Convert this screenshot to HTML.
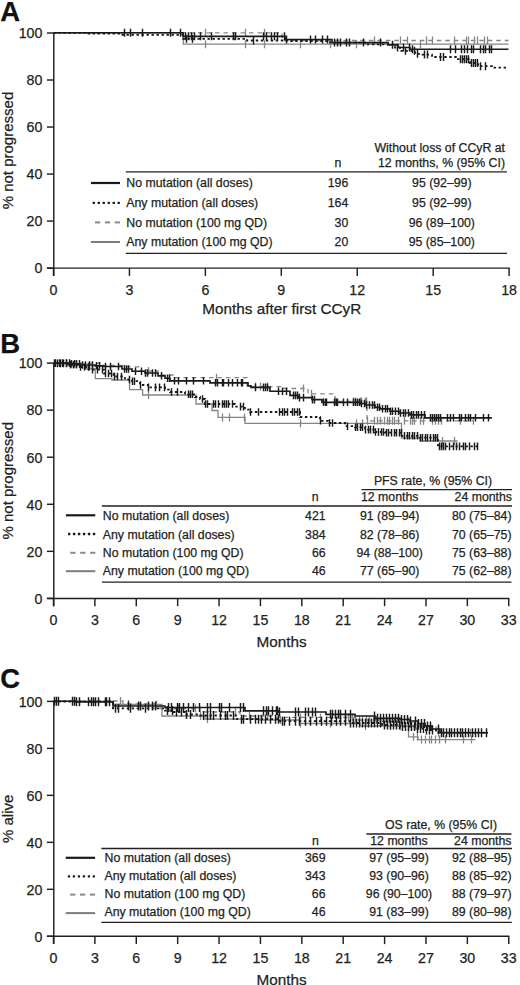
<!DOCTYPE html>
<html><head><meta charset="utf-8"><style>
html,body{margin:0;padding:0;background:#fff;}
svg{display:block;font-family:"Liberation Sans", sans-serif;}
text{stroke:#231f20;stroke-width:0.25px;}
</style></head><body>
<svg width="520" height="985" viewBox="0 0 520 985">
<rect width="520" height="985" fill="#fff"/>
<text x="0.2" y="20.6" font-size="27.5" text-anchor="start" font-weight="bold" fill="#111">A</text>
<line x1="53.8" y1="32.4" x2="53.8" y2="275.9" stroke="#231f20" stroke-width="1.45"/>
<line x1="46.9" y1="268.1" x2="509.7" y2="268.1" stroke="#231f20" stroke-width="1.45"/>
<line x1="46.9" y1="268.1" x2="53.8" y2="268.1" stroke="#231f20" stroke-width="1.45"/>
<text x="42.4" y="273.4" font-size="14.2" text-anchor="end" font-weight="normal" fill="#231f20">0</text>
<line x1="46.9" y1="221.08" x2="53.8" y2="221.08" stroke="#231f20" stroke-width="1.45"/>
<text x="42.4" y="226.38" font-size="14.2" text-anchor="end" font-weight="normal" fill="#231f20">20</text>
<line x1="46.9" y1="174.06" x2="53.8" y2="174.06" stroke="#231f20" stroke-width="1.45"/>
<text x="42.4" y="179.36" font-size="14.2" text-anchor="end" font-weight="normal" fill="#231f20">40</text>
<line x1="46.9" y1="127.04" x2="53.8" y2="127.04" stroke="#231f20" stroke-width="1.45"/>
<text x="42.4" y="132.34" font-size="14.2" text-anchor="end" font-weight="normal" fill="#231f20">60</text>
<line x1="46.9" y1="80.02" x2="53.8" y2="80.02" stroke="#231f20" stroke-width="1.45"/>
<text x="42.4" y="85.32" font-size="14.2" text-anchor="end" font-weight="normal" fill="#231f20">80</text>
<line x1="46.9" y1="33" x2="53.8" y2="33" stroke="#231f20" stroke-width="1.45"/>
<text x="42.4" y="38.3" font-size="14.2" text-anchor="end" font-weight="normal" fill="#231f20">100</text>
<line x1="53.5" y1="268.1" x2="53.5" y2="275.9" stroke="#231f20" stroke-width="1.45"/>
<text x="53.5" y="294.8" font-size="14.2" text-anchor="middle" font-weight="normal" fill="#231f20">0</text>
<line x1="129.43" y1="268.1" x2="129.43" y2="275.9" stroke="#231f20" stroke-width="1.45"/>
<text x="129.43" y="294.8" font-size="14.2" text-anchor="middle" font-weight="normal" fill="#231f20">3</text>
<line x1="205.37" y1="268.1" x2="205.37" y2="275.9" stroke="#231f20" stroke-width="1.45"/>
<text x="205.37" y="294.8" font-size="14.2" text-anchor="middle" font-weight="normal" fill="#231f20">6</text>
<line x1="281.3" y1="268.1" x2="281.3" y2="275.9" stroke="#231f20" stroke-width="1.45"/>
<text x="281.3" y="294.8" font-size="14.2" text-anchor="middle" font-weight="normal" fill="#231f20">9</text>
<line x1="357.23" y1="268.1" x2="357.23" y2="275.9" stroke="#231f20" stroke-width="1.45"/>
<text x="357.23" y="294.8" font-size="14.2" text-anchor="middle" font-weight="normal" fill="#231f20">12</text>
<line x1="433.17" y1="268.1" x2="433.17" y2="275.9" stroke="#231f20" stroke-width="1.45"/>
<text x="433.17" y="294.8" font-size="14.2" text-anchor="middle" font-weight="normal" fill="#231f20">15</text>
<line x1="509.1" y1="268.1" x2="509.1" y2="275.9" stroke="#231f20" stroke-width="1.45"/>
<text x="509.1" y="294.8" font-size="14.2" text-anchor="middle" font-weight="normal" fill="#231f20">18</text>
<text x="281.8" y="314.4" font-size="15.3" text-anchor="middle" font-weight="normal" fill="#231f20">Months after first CCyR</text>
<text x="0" y="0" font-size="15" text-anchor="middle" fill="#231f20" transform="translate(12.7,150.55) rotate(-90)">% not progressed</text>
<path d="M53.5,32.8H183.3V44.2H508.5" fill="none" stroke="#858585" stroke-width="1.3"/>
<path d="M205.5,40.2V48.2M245.5,40.2V48.2M264.5,40.2V48.2M300.5,40.2V48.2M330.5,40.2V48.2M356.5,40.2V48.2M420.5,40.2V48.2" fill="none" stroke="#858585" stroke-width="1.3"/>
<path d="M53.5,32.8H282V40.5H508.5" fill="none" stroke="#858585" stroke-width="1.3" stroke-dasharray="4.5 4"/>
<path d="M205.5,28.8V36.8M245.5,28.8V36.8M264.5,28.8V36.8M374.5,36.5V44.5M400.5,36.5V44.5M407.5,36.5V44.5M426.5,36.5V44.5M432.5,36.5V44.5M454.5,36.5V44.5M466.5,36.5V44.5M468.5,36.5V44.5M474.5,36.5V44.5M477.5,36.5V44.5M484.5,36.5V44.5M487.5,36.5V44.5" fill="none" stroke="#858585" stroke-width="1.3"/>
<path d="M53.5,32.7H183V36.3H285V39.5H332V42.6H388V44.8H398V47.5H410V49.2H508.5" fill="none" stroke="#1a1a1a" stroke-width="1.65"/>
<path d="M124.5,28.7V36.7M130.5,28.7V36.7M142.5,28.7V36.7M170.5,28.7V36.7M180.5,28.7V36.7M185.5,32.3V40.3M188.5,32.3V40.3M191.5,32.3V40.3M194.5,32.3V40.3M200.5,32.3V40.3M211.5,32.3V40.3M233.5,32.3V40.3M235.5,32.3V40.3M263.5,32.3V40.3M266.5,32.3V40.3M271.5,32.3V40.3M274.5,32.3V40.3M277.5,32.3V40.3M284.5,32.3V40.3M286.5,35.5V43.5M310.5,35.5V43.5M315.5,35.5V43.5M322.5,35.5V43.5M327.5,35.5V43.5M334.5,38.6V46.6M337.5,38.6V46.6M340.5,38.6V46.6M346.5,38.6V46.6M349.5,38.6V46.6M363.5,38.6V46.6M380.5,38.6V46.6M392.5,40.8V48.8M403.5,43.5V51.5M409.5,43.5V51.5M412.5,45.2V53.2M450.5,45.2V53.2M455.5,45.2V53.2M461.5,45.2V53.2M464.5,45.2V53.2M467.5,45.2V53.2M471.5,45.2V53.2M473.5,45.2V53.2M480.5,45.2V53.2M483.5,45.2V53.2M485.5,45.2V53.2M489.5,45.2V53.2M491.5,45.2V53.2" fill="none" stroke="#1a1a1a" stroke-width="1.45"/>
<path d="M53.5,32.8H86V33.7H120V34.8H183V38.8H247V40.5H290V41H330V42.6H365V44.4H395V47.5H400V50.8H415V53.8H420V54.6H432V57H458V59.2H470V63H478V66.2H492V67.7H508.5" fill="none" stroke="#1a1a1a" stroke-width="1.8" stroke-dasharray="2.4 2.6"/>
<path d="M186.5,34.8V42.8M192.5,34.8V42.8M253.5,36.5V44.5M397.5,43.5V51.5M405.5,46.8V54.8M414.5,46.8V54.8M417.5,49.8V57.8M424.5,50.6V58.6M427.5,50.6V58.6M440.5,53V61M443.5,53V61M460.5,55.2V63.2M462.5,55.2V63.2M464.5,55.2V63.2M466.5,55.2V63.2M468.5,55.2V63.2M471.5,59V67M473.5,59V67M475.5,59V67M477.5,59V67M480.5,62.2V70.2M485.5,62.2V70.2" fill="none" stroke="#1a1a1a" stroke-width="1.45"/>
<line x1="125.8" y1="171.8" x2="507" y2="171.8" stroke="#231f20" stroke-width="1.3"/>
<line x1="125.8" y1="253.3" x2="507" y2="253.3" stroke="#231f20" stroke-width="1.3"/>
<text x="505" y="152.4" font-size="12.3" text-anchor="end" font-weight="normal" fill="#231f20">Without loss of CCyR at</text>
<text x="505" y="166.5" font-size="12.3" text-anchor="end" font-weight="normal" fill="#231f20">12 months, % (95% CI)</text>
<text x="337.8" y="166.8" font-size="12.3" text-anchor="middle" font-weight="normal" fill="#231f20">n</text>
<text x="126.3" y="187.1" font-size="12.3" text-anchor="start" font-weight="normal" fill="#231f20">No mutation (all doses)</text>
<text x="348.3" y="187.1" font-size="12.3" text-anchor="end" font-weight="normal" fill="#231f20">196</text>
<text x="441.8" y="187.1" font-size="12.3" text-anchor="middle" font-weight="normal" fill="#231f20">95 (92–99)</text>
<text x="126.3" y="206.8" font-size="12.3" text-anchor="start" font-weight="normal" fill="#231f20">Any mutation (all doses)</text>
<text x="348.3" y="206.8" font-size="12.3" text-anchor="end" font-weight="normal" fill="#231f20">164</text>
<text x="441.8" y="206.8" font-size="12.3" text-anchor="middle" font-weight="normal" fill="#231f20">95 (92–99)</text>
<text x="126.3" y="226.5" font-size="12.3" text-anchor="start" font-weight="normal" fill="#231f20">No mutation (100 mg QD)</text>
<text x="348.3" y="226.5" font-size="12.3" text-anchor="end" font-weight="normal" fill="#231f20">30</text>
<text x="441.8" y="226.5" font-size="12.3" text-anchor="middle" font-weight="normal" fill="#231f20">96 (89–100)</text>
<text x="126.3" y="246.4" font-size="12.3" text-anchor="start" font-weight="normal" fill="#231f20">Any mutation (100 mg QD)</text>
<text x="348.3" y="246.4" font-size="12.3" text-anchor="end" font-weight="normal" fill="#231f20">20</text>
<text x="441.8" y="246.4" font-size="12.3" text-anchor="middle" font-weight="normal" fill="#231f20">95 (85–100)</text>
<line x1="90.9" y1="183" x2="120" y2="183" stroke="#1a1a1a" stroke-width="2.2"/>
<rect x="92.7" y="201.75" width="2.3" height="2.3" rx="0.5" fill="#1a1a1a"/>
<rect x="97.68" y="201.75" width="2.3" height="2.3" rx="0.5" fill="#1a1a1a"/>
<rect x="102.66" y="201.75" width="2.3" height="2.3" rx="0.5" fill="#1a1a1a"/>
<rect x="107.64" y="201.75" width="2.3" height="2.3" rx="0.5" fill="#1a1a1a"/>
<rect x="112.62" y="201.75" width="2.3" height="2.3" rx="0.5" fill="#1a1a1a"/>
<rect x="117.6" y="201.75" width="2.3" height="2.3" rx="0.5" fill="#1a1a1a"/>
<line x1="114.8" y1="222.4" x2="120" y2="222.4" stroke="#8a8a8a" stroke-width="2"/>
<line x1="104.9" y1="222.4" x2="110.1" y2="222.4" stroke="#8a8a8a" stroke-width="2"/>
<line x1="95" y1="222.4" x2="100.2" y2="222.4" stroke="#8a8a8a" stroke-width="2"/>
<line x1="90.9" y1="242" x2="120" y2="242" stroke="#7d7d7d" stroke-width="2"/>
<text x="0.2" y="353.4" font-size="27.5" text-anchor="start" font-weight="bold" fill="#111">B</text>
<line x1="53.8" y1="362.5" x2="53.8" y2="606.2" stroke="#231f20" stroke-width="1.45"/>
<line x1="46.9" y1="598.4" x2="509.35" y2="598.4" stroke="#231f20" stroke-width="1.45"/>
<line x1="46.9" y1="598.4" x2="53.8" y2="598.4" stroke="#231f20" stroke-width="1.45"/>
<text x="42.4" y="603.7" font-size="14.2" text-anchor="end" font-weight="normal" fill="#231f20">0</text>
<line x1="46.9" y1="551.34" x2="53.8" y2="551.34" stroke="#231f20" stroke-width="1.45"/>
<text x="42.4" y="556.64" font-size="14.2" text-anchor="end" font-weight="normal" fill="#231f20">20</text>
<line x1="46.9" y1="504.28" x2="53.8" y2="504.28" stroke="#231f20" stroke-width="1.45"/>
<text x="42.4" y="509.58" font-size="14.2" text-anchor="end" font-weight="normal" fill="#231f20">40</text>
<line x1="46.9" y1="457.22" x2="53.8" y2="457.22" stroke="#231f20" stroke-width="1.45"/>
<text x="42.4" y="462.52" font-size="14.2" text-anchor="end" font-weight="normal" fill="#231f20">60</text>
<line x1="46.9" y1="410.16" x2="53.8" y2="410.16" stroke="#231f20" stroke-width="1.45"/>
<text x="42.4" y="415.46" font-size="14.2" text-anchor="end" font-weight="normal" fill="#231f20">80</text>
<line x1="46.9" y1="363.1" x2="53.8" y2="363.1" stroke="#231f20" stroke-width="1.45"/>
<text x="42.4" y="368.4" font-size="14.2" text-anchor="end" font-weight="normal" fill="#231f20">100</text>
<line x1="53.5" y1="598.4" x2="53.5" y2="606.2" stroke="#231f20" stroke-width="1.45"/>
<text x="53.5" y="625.1" font-size="14.2" text-anchor="middle" font-weight="normal" fill="#231f20">0</text>
<line x1="94.89" y1="598.4" x2="94.89" y2="606.2" stroke="#231f20" stroke-width="1.45"/>
<text x="94.89" y="625.1" font-size="14.2" text-anchor="middle" font-weight="normal" fill="#231f20">3</text>
<line x1="136.27" y1="598.4" x2="136.27" y2="606.2" stroke="#231f20" stroke-width="1.45"/>
<text x="136.27" y="625.1" font-size="14.2" text-anchor="middle" font-weight="normal" fill="#231f20">6</text>
<line x1="177.66" y1="598.4" x2="177.66" y2="606.2" stroke="#231f20" stroke-width="1.45"/>
<text x="177.66" y="625.1" font-size="14.2" text-anchor="middle" font-weight="normal" fill="#231f20">9</text>
<line x1="219.05" y1="598.4" x2="219.05" y2="606.2" stroke="#231f20" stroke-width="1.45"/>
<text x="219.05" y="625.1" font-size="14.2" text-anchor="middle" font-weight="normal" fill="#231f20">12</text>
<line x1="260.43" y1="598.4" x2="260.43" y2="606.2" stroke="#231f20" stroke-width="1.45"/>
<text x="260.43" y="625.1" font-size="14.2" text-anchor="middle" font-weight="normal" fill="#231f20">15</text>
<line x1="301.82" y1="598.4" x2="301.82" y2="606.2" stroke="#231f20" stroke-width="1.45"/>
<text x="301.82" y="625.1" font-size="14.2" text-anchor="middle" font-weight="normal" fill="#231f20">18</text>
<line x1="343.2" y1="598.4" x2="343.2" y2="606.2" stroke="#231f20" stroke-width="1.45"/>
<text x="343.2" y="625.1" font-size="14.2" text-anchor="middle" font-weight="normal" fill="#231f20">21</text>
<line x1="384.59" y1="598.4" x2="384.59" y2="606.2" stroke="#231f20" stroke-width="1.45"/>
<text x="384.59" y="625.1" font-size="14.2" text-anchor="middle" font-weight="normal" fill="#231f20">24</text>
<line x1="425.98" y1="598.4" x2="425.98" y2="606.2" stroke="#231f20" stroke-width="1.45"/>
<text x="425.98" y="625.1" font-size="14.2" text-anchor="middle" font-weight="normal" fill="#231f20">27</text>
<line x1="467.36" y1="598.4" x2="467.36" y2="606.2" stroke="#231f20" stroke-width="1.45"/>
<text x="467.36" y="625.1" font-size="14.2" text-anchor="middle" font-weight="normal" fill="#231f20">30</text>
<line x1="508.75" y1="598.4" x2="508.75" y2="606.2" stroke="#231f20" stroke-width="1.45"/>
<text x="508.75" y="625.1" font-size="14.2" text-anchor="middle" font-weight="normal" fill="#231f20">33</text>
<text x="281.62" y="646.6" font-size="15.3" text-anchor="middle" font-weight="normal" fill="#231f20">Months</text>
<text x="0" y="0" font-size="15" text-anchor="middle" fill="#231f20" transform="translate(12.7,480.75) rotate(-90)">% not progressed</text>
<path d="M53.5,363.1H70V365H85V369H95.3V378.6H112V380H129.5V389.7H142.6V395H196V404H212V410.5H218V417.4H245V423.3H401.5V438H420V441H457.6" fill="none" stroke="#858585" stroke-width="1.3"/>
<path d="M148.5,391V399M222.5,413.4V421.4M229.5,413.4V421.4M244.5,413.4V421.4M300.5,419.3V427.3M356.5,419.3V427.3M362.5,419.3V427.3M442.5,437V445M454.5,437V445" fill="none" stroke="#858585" stroke-width="1.3"/>
<path d="M53.5,363.1H100V365.5H125V366.8H140V371H158V375H175V377.7H247V386.6H283V388.5H308V393.8H335V401.4H367V420.8H473" fill="none" stroke="#858585" stroke-width="1.3" stroke-dasharray="4.5 4"/>
<path d="M148.5,367V375M216.5,373.7V381.7M255.5,382.6V390.6M260.5,382.6V390.6M267.5,382.6V390.6M303.5,384.5V392.5M311.5,389.8V397.8M335.5,397.4V405.4M353.5,397.4V405.4M355.5,397.4V405.4M360.5,397.4V405.4M361.5,397.4V405.4M365.5,397.4V405.4M366.5,397.4V405.4M367.5,416.8V424.8M374.5,416.8V424.8M377.5,416.8V424.8M380.5,416.8V424.8M384.5,416.8V424.8M387.5,416.8V424.8M389.5,416.8V424.8M392.5,416.8V424.8M394.5,416.8V424.8M398.5,416.8V424.8M404.5,416.8V424.8M410.5,416.8V424.8M412.5,416.8V424.8M414.5,416.8V424.8M420.5,416.8V424.8M423.5,416.8V424.8M432.5,416.8V424.8M435.5,416.8V424.8M438.5,416.8V424.8M441.5,416.8V424.8M460.5,416.8V424.8M473.5,416.8V424.8" fill="none" stroke="#858585" stroke-width="1.3"/>
<path d="M53.5,363.1H70V363.8H80V365H95V365.8H103V366.5H122V369H132V371.2H145V373H158V375.8H165V378.2H170V380.8H210V382.8H248V385.8H251V387.4H270V391.2H290V395.4H298V397.6H312V399.6H322V402.3H360V403.5H365V405H375V407.3H380V408.8H390V411.2H400V413H410V414.9H425V417.8H491.9" fill="none" stroke="#1a1a1a" stroke-width="1.65"/>
<path d="M54.5,359.3V366.9M55.5,359.3V366.9M59.5,359.3V366.9M62.5,359.3V366.9M66.5,359.3V366.9M69.5,359.3V366.9M71.5,360V367.6M74.5,360V367.6M76.5,360V367.6M79.5,360V367.6M82.5,361.2V368.8M85.5,361.2V368.8M89.5,361.2V368.8M92.5,361.2V368.8M96.5,362V369.6M99.5,362V369.6M105.5,362.7V370.3M110.5,362.7V370.3M118.5,362.7V370.3M124.5,365.2V372.8M126.5,365.2V372.8M128.5,365.2V372.8M135.5,367.4V375M141.5,367.4V375M145.5,369.2V376.8M147.5,369.2V376.8M152.5,369.2V376.8M155.5,369.2V376.8M161.5,372V379.6M167.5,374.4V382M169.5,374.4V382M174.5,377V384.6M178.5,377V384.6M186.5,377V384.6M193.5,377V384.6M203.5,377V384.6M215.5,379V386.6M217.5,379V386.6M222.5,379V386.6M223.5,379V386.6M228.5,379V386.6M232.5,379V386.6M237.5,379V386.6M241.5,379V386.6M242.5,379V386.6M255.5,383.6V391.2M263.5,383.6V391.2M265.5,383.6V391.2M267.5,383.6V391.2M278.5,387.4V395M282.5,387.4V395M286.5,387.4V395M293.5,391.6V399.2M295.5,391.6V399.2M297.5,391.6V399.2M299.5,393.8V401.4M303.5,393.8V401.4M303.5,393.8V401.4M312.5,395.8V403.4M314.5,395.8V403.4M323.5,398.5V406.1M325.5,398.5V406.1M326.5,398.5V406.1M334.5,398.5V406.1M336.5,398.5V406.1M337.5,398.5V406.1M343.5,398.5V406.1M347.5,398.5V406.1M353.5,398.5V406.1M355.5,398.5V406.1M357.5,398.5V406.1M359.5,398.5V406.1M361.5,399.7V407.3M364.5,399.7V407.3M366.5,401.2V408.8M369.5,401.2V408.8M372.5,401.2V408.8M374.5,401.2V408.8M377.5,403.5V411.1M379.5,403.5V411.1M382.5,405V412.6M385.5,405V412.6M387.5,405V412.6M390.5,407.4V415M392.5,407.4V415M395.5,407.4V415M398.5,407.4V415M400.5,409.2V416.8M403.5,409.2V416.8M405.5,409.2V416.8M408.5,409.2V416.8M411.5,411.1V418.7M413.5,411.1V418.7M416.5,411.1V418.7M418.5,411.1V418.7M421.5,411.1V418.7M424.5,411.1V418.7M430.5,414V421.6M432.5,414V421.6M434.5,414V421.6M436.5,414V421.6M438.5,414V421.6M440.5,414V421.6M447.5,414V421.6M450.5,414V421.6M453.5,414V421.6M459.5,414V421.6M461.5,414V421.6M465.5,414V421.6M468.5,414V421.6M470.5,414V421.6M475.5,414V421.6M483.5,414V421.6M488.5,414V421.6" fill="none" stroke="#1a1a1a" stroke-width="1.45"/>
<path d="M53.5,363.4H68V364.7H80V367H89V369.6H104V373.5H113.5V376.5H125V379.5H132V381.2H140V385H148V387.4H165V389.7H170V392H185V394.3H195V397H200V399H205V404H235V406.6H245V409.7H250V412H300V417H320V420.8H328V423H345V426.2H355V427.3H365V429.6H375V432H385V432.7H402V435.8H420V437.7H438V446.4H480.5" fill="none" stroke="#1a1a1a" stroke-width="1.8" stroke-dasharray="2.4 2.6"/>
<path d="M57.5,359.6V367.2M60.5,359.6V367.2M63.5,359.6V367.2M66.5,359.6V367.2M70.5,360.9V368.5M73.5,360.9V368.5M76.5,360.9V368.5M80.5,363.2V370.8M84.5,363.2V370.8M88.5,363.2V370.8M92.5,365.8V373.4M97.5,365.8V373.4M102.5,365.8V373.4M105.5,369.7V377.3M108.5,369.7V377.3M111.5,369.7V377.3M114.5,372.7V380.3M117.5,372.7V380.3M121.5,372.7V380.3M129.5,375.7V383.3M132.5,377.4V385M134.5,377.4V385M140.5,381.2V388.8M148.5,383.6V391.2M155.5,383.6V391.2M159.5,383.6V391.2M164.5,383.6V391.2M171.5,388.2V395.8M177.5,388.2V395.8M188.5,390.5V398.1M190.5,390.5V398.1M192.5,390.5V398.1M202.5,395.2V402.8M205.5,400.2V407.8M207.5,400.2V407.8M213.5,400.2V407.8M215.5,400.2V407.8M218.5,400.2V407.8M222.5,400.2V407.8M224.5,400.2V407.8M226.5,400.2V407.8M228.5,400.2V407.8M232.5,400.2V407.8M240.5,402.8V410.4M243.5,402.8V410.4M250.5,408.2V415.8M258.5,408.2V415.8M279.5,408.2V415.8M282.5,408.2V415.8M284.5,408.2V415.8M287.5,408.2V415.8M292.5,408.2V415.8M294.5,408.2V415.8M297.5,408.2V415.8M299.5,408.2V415.8M320.5,417V424.6M329.5,419.2V426.8M332.5,419.2V426.8M347.5,422.4V430M355.5,423.5V431.1M357.5,423.5V431.1M360.5,423.5V431.1M362.5,423.5V431.1M365.5,425.8V433.4M368.5,425.8V433.4M370.5,425.8V433.4M373.5,425.8V433.4M375.5,428.2V435.8M378.5,428.2V435.8M381.5,428.2V435.8M383.5,428.2V435.8M386.5,428.9V436.5M388.5,428.9V436.5M391.5,428.9V436.5M394.5,428.9V436.5M396.5,428.9V436.5M399.5,428.9V436.5M401.5,428.9V436.5M404.5,432V439.6M407.5,432V439.6M409.5,432V439.6M412.5,432V439.6M414.5,432V439.6M417.5,432V439.6M420.5,433.9V441.5M422.5,433.9V441.5M425.5,433.9V441.5M427.5,433.9V441.5M430.5,433.9V441.5M433.5,433.9V441.5M435.5,433.9V441.5M437.5,433.9V441.5M439.5,442.6V450.2M441.5,442.6V450.2M443.5,442.6V450.2M445.5,442.6V450.2M449.5,442.6V450.2M453.5,442.6V450.2M456.5,442.6V450.2M459.5,442.6V450.2M463.5,442.6V450.2M465.5,442.6V450.2M469.5,442.6V450.2M474.5,442.6V450.2M477.5,442.6V450.2" fill="none" stroke="#1a1a1a" stroke-width="1.45"/>
<line x1="101.9" y1="506" x2="512" y2="506" stroke="#231f20" stroke-width="1.3"/>
<line x1="101.9" y1="582.2" x2="511.5" y2="582.2" stroke="#231f20" stroke-width="1.3"/>
<line x1="361.5" y1="489.7" x2="512" y2="489.7" stroke="#231f20" stroke-width="1.3"/>
<text x="433" y="484.7" font-size="12.3" text-anchor="middle" font-weight="normal" fill="#231f20">PFS rate, % (95% CI)</text>
<text x="389.7" y="501.2" font-size="12.3" text-anchor="middle" font-weight="normal" fill="#231f20">12 months</text>
<text x="512" y="501.2" font-size="12.3" text-anchor="end" font-weight="normal" fill="#231f20">24 months</text>
<text x="315.2" y="501.2" font-size="12.3" text-anchor="middle" font-weight="normal" fill="#231f20">n</text>
<text x="102.8" y="520" font-size="12.3" text-anchor="start" font-weight="normal" fill="#231f20">No mutation (all doses)</text>
<text x="325.6" y="520" font-size="12.3" text-anchor="end" font-weight="normal" fill="#231f20">421</text>
<text x="389.7" y="520" font-size="12.3" text-anchor="middle" font-weight="normal" fill="#231f20">91 (89–94)</text>
<text x="511.5" y="520" font-size="12.3" text-anchor="end" font-weight="normal" fill="#231f20">80 (75–84)</text>
<text x="102.8" y="538.5" font-size="12.3" text-anchor="start" font-weight="normal" fill="#231f20">Any mutation (all doses)</text>
<text x="325.6" y="538.5" font-size="12.3" text-anchor="end" font-weight="normal" fill="#231f20">384</text>
<text x="389.7" y="538.5" font-size="12.3" text-anchor="middle" font-weight="normal" fill="#231f20">82 (78–86)</text>
<text x="511.5" y="538.5" font-size="12.3" text-anchor="end" font-weight="normal" fill="#231f20">70 (65–75)</text>
<text x="102.8" y="556.9" font-size="12.3" text-anchor="start" font-weight="normal" fill="#231f20">No mutation (100 mg QD)</text>
<text x="325.6" y="556.9" font-size="12.3" text-anchor="end" font-weight="normal" fill="#231f20">66</text>
<text x="389.7" y="556.9" font-size="12.3" text-anchor="middle" font-weight="normal" fill="#231f20">94 (88–100)</text>
<text x="511.5" y="556.9" font-size="12.3" text-anchor="end" font-weight="normal" fill="#231f20">75 (63–88)</text>
<text x="102.8" y="575.3" font-size="12.3" text-anchor="start" font-weight="normal" fill="#231f20">Any mutation (100 mg QD)</text>
<text x="325.6" y="575.3" font-size="12.3" text-anchor="end" font-weight="normal" fill="#231f20">46</text>
<text x="389.7" y="575.3" font-size="12.3" text-anchor="middle" font-weight="normal" fill="#231f20">77 (65–90)</text>
<text x="511.5" y="575.3" font-size="12.3" text-anchor="end" font-weight="normal" fill="#231f20">75 (62–88)</text>
<line x1="65.9" y1="515.3" x2="95.3" y2="515.3" stroke="#1a1a1a" stroke-width="2.2"/>
<rect x="68" y="532.85" width="2.3" height="2.3" rx="0.5" fill="#1a1a1a"/>
<rect x="72.98" y="532.85" width="2.3" height="2.3" rx="0.5" fill="#1a1a1a"/>
<rect x="77.96" y="532.85" width="2.3" height="2.3" rx="0.5" fill="#1a1a1a"/>
<rect x="82.94" y="532.85" width="2.3" height="2.3" rx="0.5" fill="#1a1a1a"/>
<rect x="87.92" y="532.85" width="2.3" height="2.3" rx="0.5" fill="#1a1a1a"/>
<rect x="92.9" y="532.85" width="2.3" height="2.3" rx="0.5" fill="#1a1a1a"/>
<line x1="90.1" y1="552.8" x2="95.3" y2="552.8" stroke="#8a8a8a" stroke-width="2"/>
<line x1="80.2" y1="552.8" x2="85.4" y2="552.8" stroke="#8a8a8a" stroke-width="2"/>
<line x1="70.3" y1="552.8" x2="75.5" y2="552.8" stroke="#8a8a8a" stroke-width="2"/>
<line x1="65.9" y1="571.2" x2="95.3" y2="571.2" stroke="#7d7d7d" stroke-width="2"/>
<text x="0.2" y="688" font-size="27.5" text-anchor="start" font-weight="bold" fill="#111">C</text>
<line x1="53.8" y1="700.8" x2="53.8" y2="944.1" stroke="#231f20" stroke-width="1.45"/>
<line x1="46.9" y1="936.3" x2="509.35" y2="936.3" stroke="#231f20" stroke-width="1.45"/>
<line x1="46.9" y1="936.3" x2="53.8" y2="936.3" stroke="#231f20" stroke-width="1.45"/>
<text x="42.4" y="941.6" font-size="14.2" text-anchor="end" font-weight="normal" fill="#231f20">0</text>
<line x1="46.9" y1="889.32" x2="53.8" y2="889.32" stroke="#231f20" stroke-width="1.45"/>
<text x="42.4" y="894.62" font-size="14.2" text-anchor="end" font-weight="normal" fill="#231f20">20</text>
<line x1="46.9" y1="842.34" x2="53.8" y2="842.34" stroke="#231f20" stroke-width="1.45"/>
<text x="42.4" y="847.64" font-size="14.2" text-anchor="end" font-weight="normal" fill="#231f20">40</text>
<line x1="46.9" y1="795.36" x2="53.8" y2="795.36" stroke="#231f20" stroke-width="1.45"/>
<text x="42.4" y="800.66" font-size="14.2" text-anchor="end" font-weight="normal" fill="#231f20">60</text>
<line x1="46.9" y1="748.38" x2="53.8" y2="748.38" stroke="#231f20" stroke-width="1.45"/>
<text x="42.4" y="753.68" font-size="14.2" text-anchor="end" font-weight="normal" fill="#231f20">80</text>
<line x1="46.9" y1="701.4" x2="53.8" y2="701.4" stroke="#231f20" stroke-width="1.45"/>
<text x="42.4" y="706.7" font-size="14.2" text-anchor="end" font-weight="normal" fill="#231f20">100</text>
<line x1="53.5" y1="936.3" x2="53.5" y2="944.1" stroke="#231f20" stroke-width="1.45"/>
<text x="53.5" y="963" font-size="14.2" text-anchor="middle" font-weight="normal" fill="#231f20">0</text>
<line x1="94.89" y1="936.3" x2="94.89" y2="944.1" stroke="#231f20" stroke-width="1.45"/>
<text x="94.89" y="963" font-size="14.2" text-anchor="middle" font-weight="normal" fill="#231f20">3</text>
<line x1="136.27" y1="936.3" x2="136.27" y2="944.1" stroke="#231f20" stroke-width="1.45"/>
<text x="136.27" y="963" font-size="14.2" text-anchor="middle" font-weight="normal" fill="#231f20">6</text>
<line x1="177.66" y1="936.3" x2="177.66" y2="944.1" stroke="#231f20" stroke-width="1.45"/>
<text x="177.66" y="963" font-size="14.2" text-anchor="middle" font-weight="normal" fill="#231f20">9</text>
<line x1="219.05" y1="936.3" x2="219.05" y2="944.1" stroke="#231f20" stroke-width="1.45"/>
<text x="219.05" y="963" font-size="14.2" text-anchor="middle" font-weight="normal" fill="#231f20">12</text>
<line x1="260.43" y1="936.3" x2="260.43" y2="944.1" stroke="#231f20" stroke-width="1.45"/>
<text x="260.43" y="963" font-size="14.2" text-anchor="middle" font-weight="normal" fill="#231f20">15</text>
<line x1="301.82" y1="936.3" x2="301.82" y2="944.1" stroke="#231f20" stroke-width="1.45"/>
<text x="301.82" y="963" font-size="14.2" text-anchor="middle" font-weight="normal" fill="#231f20">18</text>
<line x1="343.2" y1="936.3" x2="343.2" y2="944.1" stroke="#231f20" stroke-width="1.45"/>
<text x="343.2" y="963" font-size="14.2" text-anchor="middle" font-weight="normal" fill="#231f20">21</text>
<line x1="384.59" y1="936.3" x2="384.59" y2="944.1" stroke="#231f20" stroke-width="1.45"/>
<text x="384.59" y="963" font-size="14.2" text-anchor="middle" font-weight="normal" fill="#231f20">24</text>
<line x1="425.98" y1="936.3" x2="425.98" y2="944.1" stroke="#231f20" stroke-width="1.45"/>
<text x="425.98" y="963" font-size="14.2" text-anchor="middle" font-weight="normal" fill="#231f20">27</text>
<line x1="467.36" y1="936.3" x2="467.36" y2="944.1" stroke="#231f20" stroke-width="1.45"/>
<text x="467.36" y="963" font-size="14.2" text-anchor="middle" font-weight="normal" fill="#231f20">30</text>
<line x1="508.75" y1="936.3" x2="508.75" y2="944.1" stroke="#231f20" stroke-width="1.45"/>
<text x="508.75" y="963" font-size="14.2" text-anchor="middle" font-weight="normal" fill="#231f20">33</text>
<text x="281.62" y="984.5" font-size="15.3" text-anchor="middle" font-weight="normal" fill="#231f20">Months</text>
<text x="0" y="0" font-size="15" text-anchor="middle" fill="#231f20" transform="translate(12.7,818.85) rotate(-90)">% alive</text>
<path d="M53.5,701.3H113V704.5H162V716H205V719H260V720H300V723.5H360V726H408.5V736.8H418V739.6H475.4" fill="none" stroke="#858585" stroke-width="1.3"/>
<path d="M156.5,700.5V708.5M200.5,712V720M207.5,715V723M280.5,716V724M300.5,719.5V727.5M330.5,719.5V727.5M365.5,722V730M390.5,722V730M400.5,722V730M413.5,732.8V740.8M417.5,732.8V740.8M421.5,735.6V743.6M425.5,735.6V743.6M429.5,735.6V743.6M431.5,735.6V743.6M435.5,735.6V743.6M439.5,735.6V743.6M445.5,735.6V743.6M463.5,735.6V743.6M471.5,735.6V743.6" fill="none" stroke="#858585" stroke-width="1.3"/>
<path d="M53.5,701H123V704H160V708.5H200V712H240V716H275V717.4H355V720H380V721.4H410V726H436V732.7H487" fill="none" stroke="#858585" stroke-width="1.3" stroke-dasharray="4.5 4"/>
<path d="M120.5,697V705M128.5,700V708M178.5,704.5V712.5M195.5,704.5V712.5M235.5,708V716M249.5,712V720M267.5,712V720M300.5,713.4V721.4M320.5,713.4V721.4M340.5,713.4V721.4M345.5,713.4V721.4M348.5,713.4V721.4M352.5,713.4V721.4M355.5,716V724M359.5,716V724M362.5,716V724M366.5,716V724M369.5,716V724M373.5,716V724M376.5,716V724M380.5,717.4V725.4M383.5,717.4V725.4M387.5,717.4V725.4M390.5,717.4V725.4M394.5,717.4V725.4M397.5,717.4V725.4M401.5,717.4V725.4M404.5,717.4V725.4M408.5,717.4V725.4M411.5,722V730M415.5,722V730M418.5,722V730M438.5,728.7V736.7M457.5,728.7V736.7M470.5,728.7V736.7" fill="none" stroke="#858585" stroke-width="1.3"/>
<path d="M53.5,701.2H75V701.8H113V706H165V707.5H245V710.8H278V712H326V714.3H355V716H375V718.3H400V719.5H410V721H418V723.5H425V726H432V729H440V732.7H488" fill="none" stroke="#1a1a1a" stroke-width="1.65"/>
<path d="M54.5,696.7V705.7M56.5,696.7V705.7M58.5,696.7V705.7M72.5,696.7V705.7M74.5,696.7V705.7M76.5,697.3V706.3M79.5,697.3V706.3M88.5,697.3V706.3M91.5,697.3V706.3M93.5,697.3V706.3M95.5,697.3V706.3M98.5,697.3V706.3M105.5,697.3V706.3M106.5,697.3V706.3M109.5,697.3V706.3M128.5,701.5V710.5M138.5,701.5V710.5M140.5,701.5V710.5M148.5,701.5V710.5M152.5,701.5V710.5M155.5,701.5V710.5M168.5,703V712M171.5,703V712M177.5,703V712M179.5,703V712M183.5,703V712M188.5,703V712M193.5,703V712M199.5,703V712M207.5,703V712M210.5,703V712M219.5,703V712M221.5,703V712M229.5,703V712M240.5,703V712M243.5,703V712M263.5,706.3V715.3M266.5,706.3V715.3M268.5,706.3V715.3M272.5,706.3V715.3M276.5,706.3V715.3M277.5,706.3V715.3M279.5,707.5V716.5M295.5,707.5V716.5M298.5,707.5V716.5M305.5,707.5V716.5M308.5,707.5V716.5M312.5,707.5V716.5M315.5,707.5V716.5M330.5,709.8V718.8M332.5,709.8V718.8M335.5,709.8V718.8M338.5,709.8V718.8M340.5,709.8V718.8M345.5,709.8V718.8M350.5,709.8V718.8M374.5,711.5V720.5M377.5,713.8V722.8M380.5,713.8V722.8M383.5,713.8V722.8M386.5,713.8V722.8M389.5,713.8V722.8M392.5,713.8V722.8M395.5,713.8V722.8M398.5,713.8V722.8M401.5,715V724M404.5,715V724M407.5,715V724M410.5,716.5V725.5M415.5,716.5V725.5M418.5,719V728M421.5,719V728M424.5,719V728M427.5,721.5V730.5M430.5,721.5V730.5M438.5,724.5V733.5M441.5,728.2V737.2M443.5,728.2V737.2M446.5,728.2V737.2M449.5,728.2V737.2M451.5,728.2V737.2M454.5,728.2V737.2M457.5,728.2V737.2M460.5,728.2V737.2M462.5,728.2V737.2M465.5,728.2V737.2M468.5,728.2V737.2M472.5,728.2V737.2M475.5,728.2V737.2M478.5,728.2V737.2M481.5,728.2V737.2M486.5,728.2V737.2" fill="none" stroke="#1a1a1a" stroke-width="1.45"/>
<path d="M53.5,701.5H113V708.3H165V710.6H173V712H185V714.5H198V715.5H237V719.2H280V721.2H350V723H382V725H400V726.5H415V728.5H425V730H436V732.7H488" fill="none" stroke="#1a1a1a" stroke-width="1.8" stroke-dasharray="2.4 2.6"/>
<path d="M115.5,703.8V712.8M118.5,703.8V712.8M130.5,703.8V712.8M145.5,703.8V712.8M167.5,706.1V715.1M172.5,706.1V715.1M176.5,707.5V716.5M181.5,707.5V716.5M186.5,710V719M190.5,710V719M203.5,711V720M207.5,711V720M210.5,711V720M213.5,711V720M220.5,711V720M225.5,711V720M227.5,711V720M233.5,711V720M241.5,714.7V723.7M243.5,714.7V723.7M250.5,714.7V723.7M255.5,714.7V723.7M258.5,714.7V723.7M261.5,714.7V723.7M265.5,714.7V723.7M270.5,714.7V723.7M275.5,714.7V723.7M278.5,714.7V723.7M282.5,716.7V725.7M284.5,716.7V725.7M289.5,716.7V725.7M295.5,716.7V725.7M299.5,716.7V725.7M305.5,716.7V725.7M310.5,716.7V725.7M316.5,716.7V725.7M321.5,716.7V725.7M326.5,716.7V725.7M331.5,716.7V725.7M336.5,716.7V725.7M340.5,716.7V725.7M345.5,716.7V725.7M350.5,718.5V727.5M353.5,718.5V727.5M356.5,718.5V727.5M359.5,718.5V727.5M362.5,718.5V727.5M365.5,718.5V727.5M368.5,718.5V727.5M371.5,718.5V727.5M374.5,718.5V727.5M377.5,718.5V727.5M380.5,718.5V727.5M384.5,720.5V729.5M387.5,720.5V729.5M390.5,720.5V729.5M393.5,720.5V729.5M396.5,720.5V729.5M399.5,720.5V729.5M402.5,722V731M405.5,722V731M408.5,722V731M411.5,722V731M414.5,722V731M417.5,724V733M420.5,724V733M423.5,724V733M426.5,725.5V734.5M429.5,725.5V734.5M432.5,725.5V734.5" fill="none" stroke="#1a1a1a" stroke-width="1.45"/>
<line x1="101.4" y1="848.5" x2="512" y2="848.5" stroke="#231f20" stroke-width="1.3"/>
<line x1="101.4" y1="922.3" x2="511.8" y2="922.3" stroke="#231f20" stroke-width="1.3"/>
<line x1="366.4" y1="834" x2="511.5" y2="834" stroke="#231f20" stroke-width="1.3"/>
<text x="441" y="829.2" font-size="12.3" text-anchor="middle" font-weight="normal" fill="#231f20">OS rate, % (95% CI)</text>
<text x="399" y="845.4" font-size="12.3" text-anchor="middle" font-weight="normal" fill="#231f20">12 months</text>
<text x="511.5" y="845.4" font-size="12.3" text-anchor="end" font-weight="normal" fill="#231f20">24 months</text>
<text x="315.5" y="845.4" font-size="12.3" text-anchor="middle" font-weight="normal" fill="#231f20">n</text>
<text x="104.5" y="861.5" font-size="12.3" text-anchor="start" font-weight="normal" fill="#231f20">No mutation (all doses)</text>
<text x="325.5" y="861.5" font-size="12.3" text-anchor="end" font-weight="normal" fill="#231f20">369</text>
<text x="399" y="861.5" font-size="12.3" text-anchor="middle" font-weight="normal" fill="#231f20">97 (95–99)</text>
<text x="511.5" y="861.5" font-size="12.3" text-anchor="end" font-weight="normal" fill="#231f20">92 (88–95)</text>
<text x="104.5" y="879.6" font-size="12.3" text-anchor="start" font-weight="normal" fill="#231f20">Any mutation (all doses)</text>
<text x="325.5" y="879.6" font-size="12.3" text-anchor="end" font-weight="normal" fill="#231f20">343</text>
<text x="399" y="879.6" font-size="12.3" text-anchor="middle" font-weight="normal" fill="#231f20">93 (90–96)</text>
<text x="511.5" y="879.6" font-size="12.3" text-anchor="end" font-weight="normal" fill="#231f20">88 (85–92)</text>
<text x="104.5" y="897.9" font-size="12.3" text-anchor="start" font-weight="normal" fill="#231f20">No mutation (100 mg QD)</text>
<text x="325.5" y="897.9" font-size="12.3" text-anchor="end" font-weight="normal" fill="#231f20">66</text>
<text x="399" y="897.9" font-size="12.3" text-anchor="middle" font-weight="normal" fill="#231f20">96 (90–100)</text>
<text x="511.5" y="897.9" font-size="12.3" text-anchor="end" font-weight="normal" fill="#231f20">88 (79–97)</text>
<text x="104.5" y="916.1" font-size="12.3" text-anchor="start" font-weight="normal" fill="#231f20">Any mutation (100 mg QD)</text>
<text x="325.5" y="916.1" font-size="12.3" text-anchor="end" font-weight="normal" fill="#231f20">46</text>
<text x="399" y="916.1" font-size="12.3" text-anchor="middle" font-weight="normal" fill="#231f20">91 (83–99)</text>
<text x="511.5" y="916.1" font-size="12.3" text-anchor="end" font-weight="normal" fill="#231f20">89 (80–98)</text>
<line x1="65.7" y1="857.8" x2="95.1" y2="857.8" stroke="#1a1a1a" stroke-width="2.2"/>
<rect x="67.8" y="875.25" width="2.3" height="2.3" rx="0.5" fill="#1a1a1a"/>
<rect x="72.78" y="875.25" width="2.3" height="2.3" rx="0.5" fill="#1a1a1a"/>
<rect x="77.76" y="875.25" width="2.3" height="2.3" rx="0.5" fill="#1a1a1a"/>
<rect x="82.74" y="875.25" width="2.3" height="2.3" rx="0.5" fill="#1a1a1a"/>
<rect x="87.72" y="875.25" width="2.3" height="2.3" rx="0.5" fill="#1a1a1a"/>
<rect x="92.7" y="875.25" width="2.3" height="2.3" rx="0.5" fill="#1a1a1a"/>
<line x1="89.9" y1="894.6" x2="95.1" y2="894.6" stroke="#8a8a8a" stroke-width="2"/>
<line x1="80" y1="894.6" x2="85.2" y2="894.6" stroke="#8a8a8a" stroke-width="2"/>
<line x1="70.1" y1="894.6" x2="75.3" y2="894.6" stroke="#8a8a8a" stroke-width="2"/>
<line x1="65.7" y1="913.1" x2="95.1" y2="913.1" stroke="#7d7d7d" stroke-width="2"/>
</svg>
</body></html>
